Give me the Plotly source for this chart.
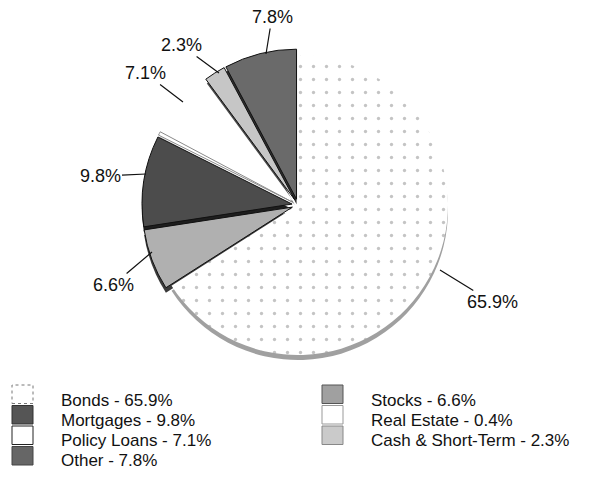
import plotly.graph_objects as go

# ---------------- data ----------------
categories = ["Bonds", "Stocks", "Mortgages", "Real Estate", "Policy Loans",
              "Cash & Short-Term", "Other"]
values = [65.9, 6.6, 9.8, 0.4, 7.1, 2.3, 7.8]
pulls = [0.0, 0.04, 0.04, 0.04, 0.04, 0.04, 0.04]

face_colors = ["#ffffff", "#b0b0b0", "#4c4c4c", "#ffffff", "#ffffff", "#c6c6c6", "#6a6a6a"]
side_colors = ["#a0a0a0", "#3a3a3a", "#1e1e1e", "#cfcfcf", "rgba(0,0,0,0)", "#4a4a4a", "#2e2e2e"]
edge_colors = ["rgba(0,0,0,0)", "#111111", "#111111", "#8a8a8a", "rgba(0,0,0,0)", "#111111", "#111111"]
edge_widths = [0, 1, 1, 1, 0, 1, 1]

# legend layout (column, row) in the order of categories
legend_cells = [(0, 0), (1, 0), (0, 1), (1, 1), (0, 2), (1, 2), (0, 3)]
swatch_fill = ["#ffffff", "#a0a0a0", "#555555", "#ffffff", "#ffffff", "#cacaca", "#666666"]
swatch_line = ["#777777", "#555555", "#333333", "#999999", "#222222", "#888888", "#444444"]
swatch_dash = ["dot", "solid", "solid", "solid", "solid", "solid", "solid"]

# label placement: (text x, text y, tip x, tip y) in page pixels
label_pos = [
    (492, 302, 440, 270),   # Bonds
    (113, 285, 152, 252),   # Stocks
    (100, 176, 146, 174),   # Mortgages
    None,                   # Real Estate (no label)
    (145, 73, 183, 102),    # Policy Loans
    (181, 45, 219, 73),     # Cash
    (272, 17, 266, 54),     # Other
]

W, H = 589, 480
OFF = 8                    # default body margin of the page
FW, FH = W - OFF, H - OFF  # figure size
FONT = "Liberation Sans, Arial, sans-serif"


def px(x):
    return (x - OFF) / FW


def py(y):
    return 1 - (y - OFF) / FH


# pie geometry (center / radius in page pixels)
cx, cy, r = 298, 205, 150
half = r * (1 + max(pulls))
dom_x = [px(cx - half), px(cx + half)]
dom_y = [py(cy + half), py(cy - half)]
shift = 5
dom_y_side = [py(cy + shift + half), py(cy + shift - half)]

fig = go.Figure()

# "3D" side of the pie, drawn slightly lower behind the face
fig.add_trace(go.Pie(
    labels=categories, values=values, sort=False, direction="clockwise",
    rotation=0, pull=pulls, textinfo="none", hoverinfo="skip",
    marker=dict(colors=side_colors, line=dict(width=0)),
    domain=dict(x=dom_x, y=dom_y_side), showlegend=False,
))

# pie face
fig.add_trace(go.Pie(
    labels=categories, values=values, sort=False, direction="clockwise",
    rotation=0, pull=pulls, textinfo="none",
    marker=dict(
        colors=face_colors,
        line=dict(color=edge_colors, width=edge_widths),
        pattern=dict(shape=[".", "", "", "", "", "", ""],
                     fgcolor=["#c4c4c4"] * 7, size=13, solidity=0.05),
    ),
    domain=dict(x=dom_x, y=dom_y), showlegend=False,
))

annotations = []
for v, pos in zip(values, label_pos):
    if pos is None:
        continue
    tx, ty, ex, ey = pos
    annotations.append(dict(
        x=px(ex), y=py(ey), xref="paper", yref="paper",
        ax=tx - ex, ay=ty - ey, text=f"{v}%",
        showarrow=True, arrowhead=0, arrowwidth=1.2, arrowcolor="#111111",
        standoff=0, startstandoff=0,
        font=dict(family=FONT, size=18, color="#111111"),
    ))

shapes = []
col_box_x = [12, 322]
col_text_x = [59, 369]
for cat, v, (c, rw), fill, lc, ld in zip(categories, values, legend_cells,
                                        swatch_fill, swatch_line, swatch_dash):
    top = 385 + rw * 20.5
    shapes.append(dict(
        type="rect", xref="paper", yref="paper",
        x0=px(col_box_x[c]), x1=px(col_box_x[c] + 21),
        y0=py(top + 18.5), y1=py(top),
        fillcolor=fill, line=dict(color=lc, width=1, dash=ld),
    ))
    annotations.append(dict(
        x=px(col_text_x[c]), y=py(400 + rw * 20), xref="paper", yref="paper",
        xanchor="left", yanchor="middle", showarrow=False,
        text=f"{cat} - {v}%",
        font=dict(family=FONT, size=17, color="#111111"),
    ))

fig.update_layout(
    width=FW, height=FH,
    margin=dict(l=0, r=0, t=0, b=0),
    paper_bgcolor="white", plot_bgcolor="white",
    annotations=annotations, shapes=shapes,
    showlegend=False,
)

fig.write_html("out.html")
